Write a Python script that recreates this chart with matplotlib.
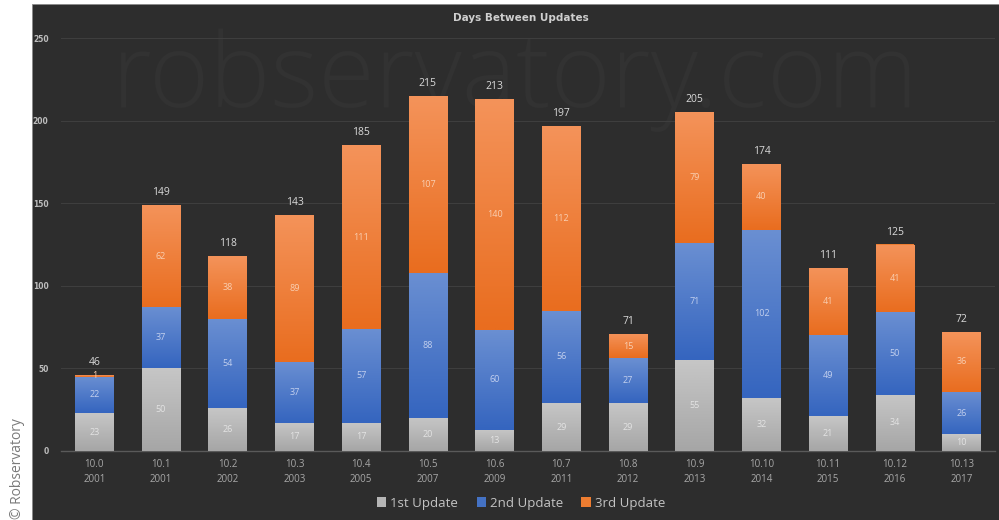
import numpy as np
import matplotlib
matplotlib.use("Agg")
import matplotlib.pyplot as plt
from matplotlib.colors import to_rgb
from matplotlib.patches import Rectangle, Patch

versions = ["10.0", "10.1", "10.2", "10.3", "10.4", "10.5", "10.6",
            "10.7", "10.8", "10.9", "10.10", "10.11", "10.12", "10.13"]
years = ["2001", "2001", "2002", "2003", "2005", "2007", "2009",
         "2011", "2012", "2013", "2014", "2015", "2016", "2017"]
first_update = [23, 50, 26, 17, 17, 20, 13, 29, 29, 55, 32, 21, 34, 10]
second_update = [22, 37, 54, 37, 57, 88, 60, 56, 27, 71, 102, 49, 50, 26]
third_update = [1, 62, 38, 89, 111, 107, 140, 112, 15, 79, 40, 41, 41, 36]
series_names = ["1st Update", "2nd Update", "3rd Update"]

plt.rcParams["font.family"] = ["Open Sans", "DejaVu Sans"]

BG = "#2d2d2d"
# (top, bottom) gradient colours for each series
grad = [("#c6c6c6", "#a6a6a6"), ("#6a8fd2", "#3565bf"), ("#f4935a", "#e96d1f")]
base = ["#b5b5b5", "#4472c4", "#ed7d31"]
inner_txt = ["#e3e3e3", "#c3d0ee", "#f9cfb2"]

W, H = 999, 520
fig = plt.figure(figsize=(W / 100, H / 100), dpi=100, facecolor="white")

# dark panel
fig.add_artist(Rectangle((32 / W, 0), 1 - 32 / W, (H - 4) / H,
                         transform=fig.transFigure, facecolor=BG,
                         edgecolor="#8a8a8a", linewidth=0.6, zorder=-2))

# faint watermark behind the plot
fig.text(515 / W, 1 - 107 / H, "robservatory.com", ha="center", va="baseline",
         fontsize=74, color="#323232", family="Open Sans", fontweight="light",
         zorder=-1)

ax = fig.add_axes([61 / W, (H - 451) / H, (995 - 61) / W, (451 - 38) / H])
ax.set_facecolor("none")

x = np.arange(len(versions))
width = 0.58
series = [first_update, second_update, third_update]
bottom = np.zeros(len(versions))
for i, vals in enumerate(series):
    vals = np.array(vals, dtype=float)
    bars = ax.bar(x, vals, width, bottom=bottom, color=base[i], zorder=3,
                  linewidth=0)
    top_c = np.array(to_rgb(grad[i][0]))
    bot_c = np.array(to_rgb(grad[i][1]))
    t = np.linspace(0, 1, 64)[:, None]
    img = (top_c * (1 - t) + bot_c * t)[:, None, :]
    for b in bars:
        x0, y0, bw, bh = b.get_x(), b.get_y(), b.get_width(), b.get_height()
        im = ax.imshow(img, extent=(x0, x0 + bw, y0, y0 + bh), aspect="auto",
                       origin="upper", zorder=3.5, interpolation="bilinear")
        im.set_clip_path(b)
    for xi, v, b0 in zip(x, vals, bottom):
        ax.text(xi, b0 + v / 2, f"{int(v)}", ha="center", va="center",
                fontsize=6.5, color=inner_txt[i], zorder=5)
    bottom = bottom + vals

for xi, tot in zip(x, bottom):
    ax.text(xi, tot + 7.5, f"{int(tot)}", ha="center", va="center",
            fontsize=7.5, color="#d9d9d9", zorder=5)

ax.set_xlim(-0.5, len(versions) - 0.5)
ax.set_ylim(0, 250)
ax.set_yticks(range(0, 251, 50))
ax.set_xticks(x)
ax.set_xticklabels([f"{v}\n{y}" for v, y in zip(versions, years)],
                   fontsize=7, color="#a8a8a8", linespacing=1.5)
ax.tick_params(axis="x", length=0, pad=6)
ax.tick_params(axis="y", length=0, pad=9, labelsize=5.5, labelcolor="#bdbdbd")
for lbl in ax.get_yticklabels():
    lbl.set_fontweight("bold")
    lbl.set_family("DejaVu Sans")
ax.yaxis.grid(True, color="#3e3e3e", linewidth=0.8, zorder=0)
ax.set_axisbelow(True)
for s in ["top", "right", "left"]:
    ax.spines[s].set_visible(False)
ax.spines["bottom"].set_color("#5a5a5a")
ax.spines["bottom"].set_linewidth(1.0)

fig.text(521 / W, 1 - 18 / H, "Days Between Updates", ha="center",
         va="center", fontsize=7.5, color="#cfcfcf", fontweight="bold",
         family="DejaVu Sans")

fig.text(18 / W, 1 / H, "© Robservatory", rotation=90, ha="center",
         va="bottom", fontsize=10, color="#7a7a7a")

handles = [Patch(facecolor=base[i], edgecolor="none") for i in range(3)]
fig.legend(handles, series_names, loc="center", ncol=3,
           bbox_to_anchor=(521 / W, 1 - 503 / H), frameon=False,
           labelcolor="#c4c4c4", handlelength=0.7,
           handleheight=0.7, handletextpad=0.3, columnspacing=1.4,
           prop={"family": "Open Sans", "size": 9.5})

fig.savefig("out.png", dpi=100, facecolor=fig.get_facecolor())
